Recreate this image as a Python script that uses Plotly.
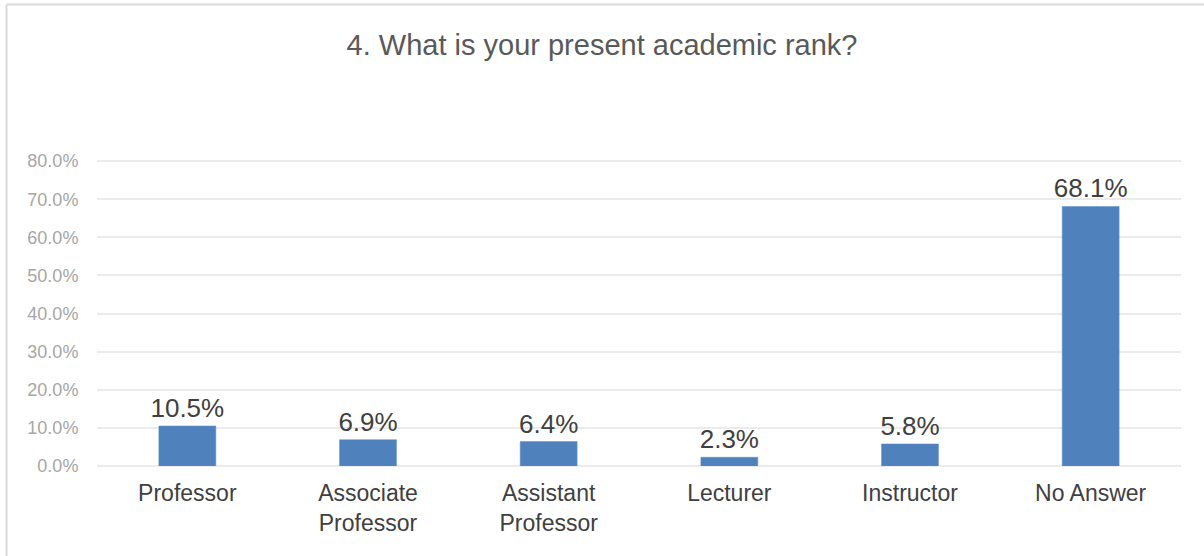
import plotly.graph_objects as go

categories = ["Professor", "Associate<br>Professor", "Assistant<br>Professor", "Lecturer", "Instructor", "No Answer"]
values = [10.5, 6.9, 6.4, 2.3, 5.8, 68.1]
tick_vals = [0, 10, 20, 30, 40, 50, 60, 70, 80]
tick_text = ["0.0%", "10.0%", "20.0%", "30.0%", "40.0%", "50.0%", "60.0%", "70.0%", "80.0%"]

W, H = 1204, 556
L, R, T, B = 97, 23, 160, 90

FONT = "Liberation Sans, Arial"

fig = go.Figure(go.Bar(
    x=categories, y=values,
    marker=dict(color="#4F81BD", line=dict(color="#5B8CC8", width=0.5)),
    text=[f"{v:.1f}%" for v in values],
    textposition="outside",
    constraintext="none",
    textfont=dict(family=FONT, size=26, color="#404040"),
    cliponaxis=False,
))

pw = W - L - R
ph = H - T - B
fig.update_layout(
    width=W, height=H,
    margin=dict(l=L, r=R, t=T, b=B),
    paper_bgcolor="white", plot_bgcolor="white",
    bargap=0.685,
    showlegend=False,
    title=dict(text="4. What is your present academic rank?", x=0.5, xanchor="center",
               y=1 - 45 / H, yanchor="middle",
               font=dict(family=FONT, size=29, color="#595959")),
    xaxis=dict(tickfont=dict(family=FONT, size=23, color="#404040"),
               showgrid=False, showline=False, ticks="outside", ticklen=6,
               tickcolor="rgba(0,0,0,0)"),
    yaxis=dict(range=[0, 80.3], tickvals=tick_vals, ticktext=tick_text,
               tickfont=dict(family=FONT, size=18, color="#A6A6A6"),
               showgrid=True, gridcolor="#EBEBEB", gridwidth=1.5,
               zeroline=True, zerolinecolor="#EBEBEB", zerolinewidth=1.5,
               showline=False, ticks="outside", ticklen=14, tickcolor="rgba(0,0,0,0)"),
    shapes=[
        dict(type="line", xref="paper", yref="paper",
             x0=(6.5 - L) / pw, x1=(6.5 - L) / pw, y0=-B / ph, y1=(H - B - 4.5) / ph,
             line=dict(color="#D9D9D9", width=2)),
        dict(type="line", xref="paper", yref="paper",
             x0=(6.5 - L) / pw, x1=(W - L) / pw, y0=(H - B - 4.5) / ph, y1=(H - B - 4.5) / ph,
             line=dict(color="#D9D9D9", width=2)),
    ],
)

fig.write_html("out.html", config={"displayModeBar": False},
               post_script="document.body.style.margin='0';document.body.style.overflow='hidden';")
